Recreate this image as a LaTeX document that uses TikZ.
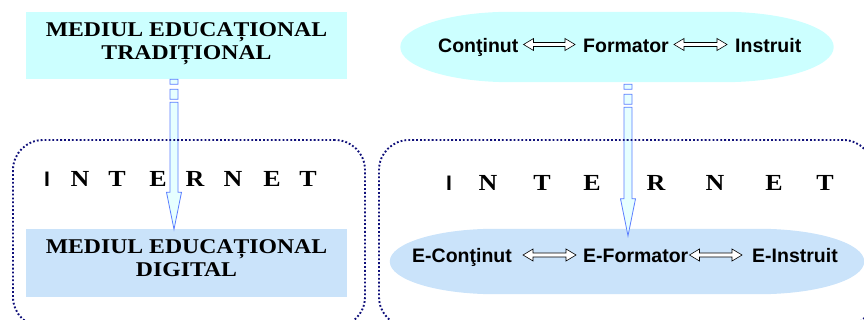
\documentclass[tikz,border=0pt]{standalone}
\usepackage{fontspec}
\newfontfamily\wserif{Liberation Serif}[FakeStretch=1.13]
\newfontfamily\asans{Liberation Sans}
\usetikzlibrary{calc}
\definecolor{boxcyan}{HTML}{CCFFFF}
\definecolor{boxblue}{HTML}{CAE3FA}
\definecolor{netnavy}{HTML}{10107A}
\definecolor{arrowblue}{HTML}{5A7DFF}
\definecolor{arrowfill}{HTML}{E6FFFF}

% filled oval with elliptical ends, spanning the bounds of a node
% #1 node, #2 horizontal corner radius, #3 vertical corner radius, #4 colour
\newcommand{\softoval}[4]{%
  \fill[#4] let \p1=(#1.south west), \p2=(#1.north east) in
    (\x1+#2,\y1) -- (\x2-#2,\y1)
    arc[start angle=-90,end angle=0,x radius=#2,y radius=#3]
    -- (\x2,\y2-#3)
    arc[start angle=0,end angle=90,x radius=#2,y radius=#3]
    -- (\x1+#2,\y2)
    arc[start angle=90,end angle=180,x radius=#2,y radius=#3]
    -- (\x1,\y1+#3)
    arc[start angle=180,end angle=270,x radius=#2,y radius=#3] -- cycle;}

\tikzset{
  envbox/.style={minimum width=321pt, minimum height=67pt, inner sep=0pt},
  envtext/.style={align=center, inner sep=0pt,
    font=\wserif\bfseries\fontsize{21}{23}\selectfont},
  roleoval/.style={rectangle, inner sep=0pt},
  rolelbl/.style={inner sep=0pt, anchor=base west,
    font=\asans\bfseries\fontsize{19.5}{22}\selectfont},
  netframe/.style={draw=netnavy, line width=1.9pt, dash pattern=on 1.8pt off 2.1pt,
    rounded corners=30pt, inner sep=0pt},
  netletter/.style={inner sep=0pt, anchor=base,
    font=\wserif\bfseries\fontsize{23}{25}\selectfont},
  netbar/.style={inner sep=0pt, anchor=base,
    font=\asans\bfseries\fontsize{21}{23}\selectfont},
  % hollow two-headed block arrow between two labels
  dblarrow/.style={draw=black, fill=white, line width=0.6pt, line join=miter,
    to path={let \p1=(\tikztostart), \p2=(\tikztotarget) in
      (\x1,\y1) -- (\x1+10pt,\y1+6pt) -- (\x1+10pt,\y1+2pt) -- (\x2-10pt,\y1+2pt)
      -- (\x2-10pt,\y1+6pt) -- (\x2,\y1) -- (\x2-10pt,\y1-6pt) -- (\x2-10pt,\y1-2pt)
      -- (\x1+10pt,\y1-2pt) -- (\x1+10pt,\y1-6pt) -- cycle}},
  % downward block arrow with a broken tail
  flowarrow/.style={draw=arrowblue, fill=arrowfill, line width=0.8pt,
    to path={let \p1=(\tikztostart), \p2=(\tikztotarget) in
      (\x1-4pt,\y1) rectangle (\x1+4pt,\y1-5pt)
      (\x1-4pt,\y1-10pt) rectangle (\x1+4pt,\y1-20pt)
      (\x1-4pt,\y1-23pt) -- (\x1-4pt,\y2+37pt) -- (\x1-7.5pt,\y2+37pt) -- (\x1,\y2)
      -- (\x1+7.5pt,\y2+37pt) -- (\x1+4pt,\y2+37pt) -- (\x1+4pt,\y1-23pt) -- cycle}}
}

\begin{document}
\begin{tikzpicture}[x=1pt,y=-1pt]
\useasboundingbox (0,0) rectangle (864,320);
\clip (0,0) rectangle (864,320);

% left column: environments
\node[envbox, fill=boxcyan] (trad) at (186.5,45.5) {};
\node[envbox, fill=boxblue] (dig) at (186.5,263) {};

% right column: roles
\node[roleoval, minimum width=433pt, minimum height=70pt] (roles) at (617,47) {};
\node[roleoval, minimum width=474pt, minimum height=65pt] (eroles) at (627,261.5) {};
\softoval{roles}{110pt}{35pt}{boxcyan}
\softoval{eroles}{105pt}{32.5pt}{boxblue}

% transition arrows
\draw[flowarrow] ([xshift=-12.5pt]trad.south) to (dig.north);
\draw[flowarrow] ([xshift=11pt,yshift=-2pt]roles.south) to ([yshift=-7pt]eroles.north);

% internet frames
\node[netframe, minimum width=352pt, minimum height=187pt] (netL) at (189,233.5) {};
\node[netframe, minimum width=494pt, minimum height=187pt] (netR) at (626,233.5) {};

% environment titles
\node[envtext] (tradtxt) at (186.5,43.5) {MEDIUL EDUCAȚIONAL\\TRADIȚIONAL};
\node[envtext] (digtxt) at (186.5,258) {MEDIUL EDUCAȚIONAL\\DIGITAL};

% spaced INTERNET captions
\node[netbar] (li1) at (47,187) {I};
\node[netletter] (ln1) at (80,187) {N};
\node[netletter] (lt1) at (117,187) {T};
\node[netletter] (le1) at (158,187) {E};
\node[netletter] (lr1) at (195,187) {R};
\node[netletter] (ln2) at (233,187) {N};
\node[netletter] (le2) at (272,187) {E};
\node[netletter] (lt2) at (308,187) {T};

\node[netbar] (ri1) at (449,191) {I};
\node[netletter] (rn1) at (488,191) {N};
\node[netletter] (rt1) at (542,191) {T};
\node[netletter] (re1) at (592,191) {E};
\node[netletter] (rr1) at (656,191) {R};
\node[netletter] (rn2) at (715,191) {N};
\node[netletter] (re2) at (774,191) {E};
\node[netletter] (rt2) at (825,191) {T};

% role labels
\node[rolelbl] (cont) at (438,52.5) {Conţinut};
\node[rolelbl] (form) at (583,52.5) {Formator};
\node[rolelbl] (inst) at (735,52.5) {Instruit};
\draw[dblarrow] ([xshift=5pt,yshift=8pt]cont.base east) to ([xshift=-8pt,yshift=8pt]form.base west);
\draw[dblarrow] ([xshift=5pt,yshift=8pt]form.base east) to ([xshift=-8pt,yshift=8pt]inst.base west);

\node[rolelbl] (econt) at (412,262) {E-Conţinut};
\node[rolelbl] (eform) at (583,262) {E-Formator};
\node[rolelbl] (einst) at (752,262) {E-Instruit};
\draw[dblarrow] ([xshift=11pt,yshift=7pt]econt.base east) to ([xshift=-7pt,yshift=7pt]eform.base west);
\draw[dblarrow] ([xshift=1pt,yshift=7pt]eform.base east) to ([xshift=-10pt,yshift=7pt]einst.base west);
\end{tikzpicture}
\end{document}
